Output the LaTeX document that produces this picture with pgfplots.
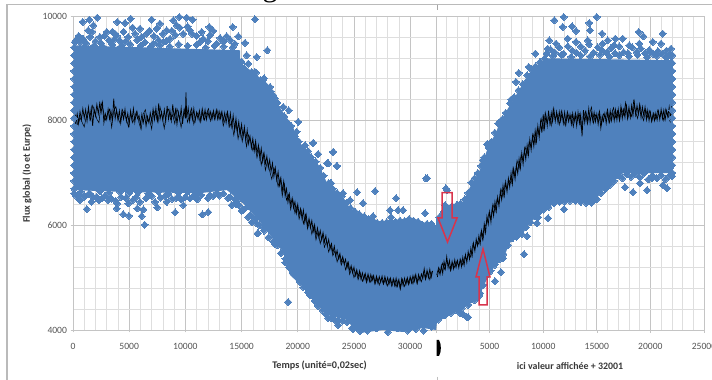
\documentclass[border=0pt]{standalone}
\usepackage{fontspec}
\setmainfont{Carlito}
\newfontfamily\serifg{Liberation Serif}
\usepackage{pgfplots}
\pgfplotsset{compat=1.18}
\definecolor{cloud}{HTML}{4F81BD}
\definecolor{majgrid}{HTML}{C4C4C4}
\definecolor{mingrid}{HTML}{DEDEDE}
\definecolor{tlabel}{HTML}{555555}
\definecolor{arrowred}{HTML}{D8344C}
\pgfplotsset{
  base/.style={
    scale only axis, clip=false, height=314pt,
    anchor=south west, scaled ticks=false,
    ymin=4000, ymax=10000,
    ytick={4000,6000,8000,10000},
    minor y tick num=4, minor x tick num=4,
    grid=both,
    major grid style={majgrid,line width=0.7pt},
    minor grid style={mingrid,line width=0.6pt},
    tick style={majgrid,line width=0.6pt},
    minor tick length=0pt, major tick length=2.5pt,
    tick align=outside,
    xtick pos=bottom, ytick pos=left,
    axis line style={majgrid,line width=0.8pt},
    tick label style={font=\fontsize{9.6}{11}\selectfont,text=tlabel},
    xticklabel style={yshift=-7pt},
  },
  cloudpoly/.style={fill=cloud,draw=none,mark=none,forget plot},
  cloudpts/.style={only marks,mark=diamond*,mark size=3.5pt,color=cloud,
    mark options={xscale=1.3,fill=cloud,draw=cloud,line width=0pt}},
  blackband/.style={black,line width=0.7pt,mark=none},
  blackover/.style={black,line width=0.5pt,mark=none},
}
\begin{document}
\begin{tikzpicture}[x=1pt,y=1pt]
\path[use as bounding box] (0,0) rectangle (712,380);
\clip (0,0) rectangle (712,380);
% frame
\fill[white] (0,0) rectangle (712,380);
\draw[color=black!27,line width=1.6pt] (7,0) -- (7,375.5) -- (712,375.5);
\draw[color=black!35,line width=0.7pt] (437,375) -- (437,370);
\draw[color=black!25,line width=0.7pt] (437,3) -- (437,0);
\node[anchor=base,inner sep=0pt,font=\fontsize{30}{30}\serifg] at (270,383.5) {g};

% left chart
\begin{axis}[base, at={(73pt,50pt)}, width=363pt,
  xmin=0, xmax=32300,
  xtick={0,5000,10000,15000,20000,25000,30000},
  xticklabels={0,5000,10000,15000,20000,25000,30000},
  yticklabels={4000,6000,8000,10000},
]
\addplot[cloudpoly] coordinates {
(100,9440)(14860,9345)(14860,9115)(16020,8925)(17270,8715)(18160,8333)(19580,7875)(20200,7570)(21090,7380)(21980,7112)(22600,6806)(24030,6540)(24650,6330)(26170,6138)(27950,6043)(29990,6157)(32300,5966)
(32300,4000)(31150,4038)(29370,3962)(27590,4000)(25540,3943)(24920,4038)(24390,4191)(22610,4286)(21360,4573)(20470,4821)(19310,5050)(18690,5489)(17530,5813)(16640,6062)(15300,6386)(13700,6673)(11300,6615)(5070,6634)(100,6673)} --cycle;
\addplot[cloudpts] coordinates {
(860,9886)(1453,9931)(2165,9969)(1809,9823)(1364,9727)(1513,9600)(267,9536)(2402,9600)(2996,9696)(3945,9886)(4627,9867)(5131,9950)(3737,9664)(4627,9505)(5962,9759)(7000,9931)(7741,9855)(6555,9664)(7445,9759)(8334,9727)(8928,9918)(9462,9982)(10114,9969)(10648,9931)(9224,9823)(10411,9727)(11449,9696)(12131,9791)(12487,9715)(14207,9791)(13673,9613)(14711,9613)(15305,9486)(16194,9937)(17292,9346)(12190,9632)(11300,9505)(12783,9473)(7148,9473)(8038,9505)(8631,9568)(5517,9664)(3589,9536)(623,9505)
(15453,9250)(16342,9218)(16194,8932)(16936,8773)(17529,8646)(17825,8486)(18715,8264)(19190,8200)(20050,7977)(19900,7787)(20644,7532)(21385,7577)(21830,7360)(23164,7405)(22720,7182)(23460,7137)(22868,6800)
(89,6609)(560,6596)(1220,6310)(1660,6450)(2110,6545)(2550,6513)(3140,6481)(3890,6323)(3940,6418)(4480,6214)(4980,6183)(4920,6418)(5720,6323)(5960,6450)(6260,6303)(6110,6176)(6380,6011)(7300,6450)(7500,6342)(8340,6450)(9080,6246)(9820,6386)(10410,6513)(11060,6494)(11510,6208)(12040,6252)(12190,6577)(13380,6609)(14120,6386)(14570,6450)(15760,6195)(16350,6036)(16410,5845)
(21360,7570)(21800,7360)(23140,7398)(22610,7188)(23500,7131)(22960,6806)(25280,6634)(26880,6654)(28750,6520)(31510,6902)(24650,6482)(25810,6424)(24030,6615)(26700,6176)(28300,6157)(28210,6291)(28930,6291)(29370,6291)(31330,6233)(31400,6896)
(19140,4535)(23140,4229)(23590,4191)(24920,4019)(25540,3981)(16470,5851)(15580,6157)(19940,5012)(20470,5107)(22700,4229)(23590,4095)(24830,4038)
(18000,5640)(18900,5290)(19600,5090)(20900,4720)(21800,4460)(26200,3990)(27000,4030)(28000,3960)(28900,4030)(29800,3990)(30500,4020)(31200,3990)(31900,4060)
(100,6700)(100,6850)(100,7000)(100,7150)(100,7300)(100,7450)(100,7600)(100,7750)(100,7900)(100,8050)(100,8200)(100,8350)(100,8500)(100,8650)(100,8800)(100,8950)(100,9100)(100,9250)(100,9400)
(1000,9420)(1900,9440)(2700,9410)(3500,9450)(4300,9420)(5100,9460)(6000,9430)(6900,9410)(7700,9440)(8600,9420)(9400,9460)(10200,9430)(11000,9450)(11800,9400)(12600,9430)(13400,9420)(14200,9400)
(700,6640)(1500,6610)(2400,6650)(3200,6620)(4200,6640)(5000,6620)(5800,6630)(6700,6610)(7600,6640)(8500,6600)(9400,6620)(10200,6640)(11000,6610)(12800,6620)(13800,6520)(14500,6400)(15000,6280)(15900,6060)(17000,5900)
(150,9500)(500,9620)(900,9560)(1200,9480)(1700,9700)(2000,9520)(2500,9480)(2800,9620)(3200,9540)(3500,9700)(3900,9620)(4200,9520)(4500,9700)(4900,9600)(5300,9780)(5700,9540)(6100,9600)(6400,9500)(6800,9720)(7200,9620)(7600,9540)(8000,9660)(8300,9520)(8800,9720)(9100,9640)(9500,9780)(9800,9660)(10200,9800)(10600,9660)(11000,9620)(11600,9560)(12000,9520)(13100,9580)(13400,9510)(14000,9540)(14400,9470)
(15000,9130)(15250,9000)(15600,9090)(15900,8930)(16300,8920)(16700,8780)(17000,8810)(17350,8620)(17600,8560)(17950,8430)(18200,8340)(18400,8120)(18800,8080)(19100,7960)(19400,7900)(19750,7700)(20100,7600)(20400,7440)(20900,7420)(21200,7300)(21600,7220)(22000,7100)(22300,6950)(22700,6800)(23100,6700)(23500,6620)(23900,6560)(24300,6420)(24700,6330)(25100,6260)(25500,6210)(25900,6170)(26300,6120)(26700,6090)(27100,6040)(27500,6050)(27900,6060)(28300,6080)(28700,6070)(29100,6090)(29500,6080)(29900,6120)(30300,6090)(30700,6070)(31100,6010)(31500,6030)(31900,6030)(32200,5950)
(14000,6540)(14400,6500)(14800,6380)(15200,6300)(15500,6360)(15800,6190)(16200,6120)(16600,6000)(17000,5950)(17400,5770)(17800,5690)(18200,5620)(18500,5470)(18900,5360)(19200,5200)(19500,5150)(19800,5050)(20200,4920)(20500,4820)(20800,4800)(21100,4660)(21500,4560)(21800,4500)(22200,4380)(22500,4300)(23000,4220)(23500,4150)(24000,4180)(24400,4150)(25000,4030)
(300,6560)(600,6480)(1000,6540)(1400,6600)(1800,6540)(2300,6480)(2800,6560)(3400,6510)(3800,6470)(4300,6540)(4700,6520)(5300,6480)(5600,6540)(6500,6520)(7000,6560)(7800,6530)(8200,6560)(8800,6510)(9200,6520)(9600,6500)(10000,6540)(10700,6560)(11400,6580)(12000,6520)(12500,6560)(13000,6570)
};
\addplot[blackband] coordinates {
(125,8000)(250,7920)(375,8130)(500,7960)(625,8170)(750,8020)(875,8230)(1000,8050)(1125,8210)(1250,7990)(1375,8260)(1500,8040)(1625,8240)(1750,7900)(1875,8220)(2000,8090)(2125,8310)(2250,8130)(2375,8330)(2500,8150)(2625,8340)(2750,7960)(2875,8130)(3000,8020)(3125,8220)(3250,8030)(3375,8190)(3500,7990)(3625,8420)(3750,8040)(3875,8200)(4000,8010)(4125,8190)(4250,7960)(4375,8170)(4500,8030)(4625,8220)(4750,7990)(4875,8140)(5000,7930)(5125,8190)(5250,8010)(5375,8230)(5500,7970)(5625,8150)(5750,8040)(5875,8100)(6000,7920)(6125,8120)(6250,7960)(6375,8110)(6500,7900)(6625,8080)(6750,7960)(6875,8150)(7000,7990)(7125,8220)(7250,8020)(7375,8240)(7500,7980)(7625,8330)(7750,8030)(7875,8170)(8000,8010)(8125,8210)(8250,7980)(8375,8280)(8500,8030)(8625,8200)(8750,8000)(8875,8310)(9000,8060)(9125,8210)(9250,7930)(9375,8160)(9500,8010)(9625,8240)(9750,7940)(9875,8200)(10000,8040)(10050,8540)(10125,8060)(10250,8240)(10375,7990)(10500,8180)(10625,8020)(10750,8230)(10875,8000)(11000,8160)(11125,8030)(11250,8190)(11375,7990)(11500,8170)(11625,8040)(11750,8210)(11875,8020)(12000,8180)(12125,8050)(12250,8170)(12375,8030)(12500,8190)(12625,8050)(12750,8200)(12875,8030)(13000,8180)(13125,8040)(13250,8170)(13375,8000)(13500,8150)(13625,7960)(13750,8150)(13875,7920)(14000,8140)(14125,7890)(14250,8100)(14375,7840)(14500,8040)(14625,7790)(14750,7980)(14875,7720)(15000,7930)(15125,7690)(15250,7880)(15375,7620)(15500,7820)(15625,7560)(15750,7700)(15875,7480)(16000,7660)(16125,7420)(16250,7610)(16375,7370)(16500,7530)(16625,7280)(16750,7470)(16875,7220)(17000,7380)(17125,7180)(17250,7320)(17375,7100)(17500,7250)(17625,7030)(17750,7190)(17875,6930)(18000,7100)(18125,6860)(18250,7020)(18375,6760)(18500,6900)(18625,6660)(18750,6840)(18875,6560)(19000,6700)(19125,6440)(19250,6600)(19375,6390)(19500,6520)(19625,6330)(19750,6450)(19875,6230)(20000,6400)(20125,6200)(20250,6320)(20375,6130)(20500,6290)(20625,6050)(20750,6200)(20875,5990)(21000,6130)(21125,5950)(21250,6090)(21375,5880)(21500,6010)(21625,5800)(21750,5950)(21875,5770)(22000,5900)(22125,5720)(22250,5860)(22375,5680)(22500,5800)(22625,5610)(22750,5730)(22875,5550)(23000,5650)(23125,5470)(23250,5600)(23375,5410)(23500,5520)(23625,5360)(23750,5460)(23875,5300)(24000,5400)(24125,5260)(24250,5350)(24375,5180)(24500,5290)(24625,5130)(24750,5230)(24875,5090)(25000,5200)(25125,5040)(25250,5150)(25375,5010)(25500,5130)(25625,4970)(25750,5090)(25875,4960)(26000,5080)(26125,4950)(26250,5070)(26375,4930)(26500,5060)(26625,4950)(26750,5040)(26875,4900)(27000,5030)(27125,4900)(27250,5020)(27375,4910)(27500,5030)(27625,4890)(27750,5020)(27875,4880)(28000,5000)(28125,4880)(28250,4990)(28375,4870)(28500,4980)(28625,4850)(28750,4990)(28875,4840)(29000,4960)(29125,4810)(29250,4980)(29375,4850)(29500,4990)(29625,4870)(29750,5000)(29875,4890)(30000,5020)(30125,4900)(30250,5040)(30375,4930)(30500,5060)(30625,4900)(30750,5060)(30875,4950)(31000,5070)(31125,4980)(31250,5170)(31375,4990)(31500,5140)(31625,5000)(31750,5160)(31875,5010)(32000,5130)
};
\addplot[blackover] coordinates {
(60,8060)(250,8110)(440,7900)(620,8060)(810,7970)(1000,7880)(1190,8090)(1370,8190)(1560,8010)(1750,8290)(1940,8170)(2120,8030)(2310,7960)(2500,8340)(2690,8200)(2870,8010)(3060,8120)(3250,8220)(3440,7870)(3620,8180)(3810,8270)(4000,8060)(4190,7950)(4370,8220)(4560,8130)(4750,8030)(4940,7880)(5120,8140)(5310,7960)(5500,8080)(5690,8190)(5870,7960)(6060,7830)(6250,8130)(6440,8210)(6620,7990)(6810,8030)(7000,7840)(7190,8190)(7370,8110)(7560,7960)(7750,8260)(7940,8060)(8120,7850)(8310,8160)(8500,8220)(8690,8020)(8870,8110)(9060,7940)(9250,8230)(9440,8090)(9620,7870)(9810,8100)(10000,8270)(10190,7970)(10370,8110)(10560,8240)(10750,7930)(10940,8080)(11120,8150)(11310,7970)(11500,8240)(11690,8010)(11870,8130)(12060,8230)(12250,7990)(12440,8150)(12620,8010)(12810,8210)(13000,8020)(13190,8170)(13370,7900)(13560,8050)(13750,8180)(13940,7880)(14120,7980)(14310,7720)(14500,7950)(14690,7650)(14870,7860)(15060,7600)(15250,7840)(15440,7500)(15620,7730)(15810,7620)(16000,7430)(16190,7550)(16370,7290)(16560,7460)(16750,7150)(16940,7370)(17120,7050)(17310,7240)(17500,7040)(17690,6880)(17870,7100)(18060,6980)(18250,6740)(18440,6910)(18620,6560)(18810,6790)(19000,6480)(19190,6590)(19370,6300)(19560,6500)(19750,6230)(19940,6380)(20120,6120)(20310,6280)(20500,6030)(20690,6210)(20870,5930)(21060,6090)(21250,5830)(21440,5990)(21620,5720)(21810,5880)(22000,5650)(22190,5820)(22370,5580)(22560,5700)(22750,5490)(22940,5620)(23120,5420)(23310,5510)(23500,5300)(23690,5440)(23870,5240)(24060,5350)(24250,5150)(24440,5290)(24620,5060)(24810,5190)(25000,5000)(25190,5120)(25370,4960)(25560,5090)(25750,4930)(25940,5060)(26120,4900)(26310,5040)(26500,4910)(26690,5040)(26870,4870)(27060,4990)(27250,4860)(27440,4990)(27620,4870)(27810,4990)(28000,4840)(28190,4980)(28370,4830)(28560,4960)(28750,4820)(28940,4960)(29120,4770)(29310,4970)(29500,4830)(29690,4970)(29870,4860)(30060,5000)(30250,4880)(30440,5050)(30620,4880)(30810,5020)(31000,4920)(31190,5110)(31370,4960)(31560,5120)(31750,4960)(31940,5120)
};
\end{axis}

% right chart
\begin{axis}[base, at={(436pt,50pt)}, width=268pt,
  xmin=0, xmax=25000,
  xtick={0,5000,10000,15000,20000,25000},
  xticklabels={,5000,10000,15000,20000,25000},
  yticklabels={},
  ytick style={draw=none},
]
\addplot[cloudpoly] coordinates {
(0,6157)(1030,6348)(2520,6444)(3170,6730)(4110,7054)(4760,7436)(5690,7818)(5880,7952)(7180,8390)(8680,8906)(10260,9192)(22100,9154)
(22100,7054)(22020,6997)(19970,6997)(18750,6997)(17450,6997)(16510,6825)(15580,6673)(14650,6425)(12780,6482)(11290,6444)(9980,6291)(8770,6043)(8120,5852)(7180,5775)(6250,5374)(5040,5107)(4290,4764)(4110,4573)(3450,4535)(2240,4382)(90,4153)(0,4000)} --cycle;
\addplot[cloudpts] coordinates {
(11040,9918)(11910,9982)(14990,9982)(14300,9867)(14370,9727)(11820,9791)(12690,9804)(13060,9715)(15490,9664)(16020,9536)(16730,9568)(17420,9568)(18910,9695)(19340,9613)(21150,9664)(20220,9505)(20990,9473)(21930,9377)(18970,9473)(16610,9441)(14150,9536)(12290,9568)(10570,9536)(11200,9473)(13060,9505)(15550,9473)(18030,9441)(19900,9314)(21770,9250)(10420,9377)(9270,9282)(8650,9027)(7720,8913)(7460,8741)(8560,8773)(7000,8404)(6070,8000)(4760,7551)(4360,7246)(930,6705)
(11940,6310)(10450,6138)(9420,6043)(9520,6157)(7560,5795)(8490,5795)(17630,6730)(18380,6634)(19030,6806)(19690,6673)(21550,6711)(21180,6768)(20150,6902)(22020,6940)(14650,6463)(14180,6577)(14370,6730)
(1030,6673)(840,6386)(1960,6386)(4850,7551)(4390,7245)
(2890,4248)(2240,4325)(5500,4935)(4110,4706)(8210,5451)(6060,5107)(2990,4248)(2520,4305)(7650,5814)(6250,5374)
(22050,7000)(22050,7150)(22050,7300)(22050,7450)(22050,7600)(22050,7750)(22050,7900)(22050,8050)(22050,8200)(22050,8350)(22050,8500)(22050,8650)(22050,8800)(22050,8950)(22050,9100)(22050,9250)
(10900,9240)(11700,9260)(12600,9220)(13500,9250)(14400,9230)(15300,9260)(16200,9220)(17100,9250)(18000,9230)(18800,9260)(19700,9210)(20600,9240)(21500,9200)
(10300,9280)(10700,9360)(11100,9300)(11500,9400)(11900,9280)(12300,9420)(12700,9340)(13100,9300)(13500,9420)(13900,9340)(14300,9460)(14700,9300)(15100,9400)(15500,9340)(15900,9300)(16300,9380)(16700,9290)(17100,9420)(17500,9310)(17900,9290)(18300,9400)(18700,9310)(19100,9380)(19500,9290)(19900,9350)(20300,9270)(20700,9330)(21100,9280)(21500,9340)(21900,9240)
(300,6150)(700,6260)(1100,6320)(1500,6370)(1900,6380)(2300,6420)(2700,6500)(3000,6620)(3300,6820)(3600,6900)(3900,7000)(4200,7140)(4500,7300)(4900,7480)(5200,7600)(5500,7770)(5800,7950)(6200,8030)(6500,8150)(6900,8330)(7300,8450)(7700,8580)(8100,8700)(8500,8870)(8900,8980)(9300,9040)(9700,9120)(10100,9180)
(200,4200)(800,4280)(1400,4330)(1900,4380)(2400,4420)(3000,4480)(3600,4570)(4000,4650)(4400,4860)(4700,5030)(5100,5130)(5500,5250)(5900,5350)(6300,5450)(6700,5620)(7100,5750)(7500,5780)(8000,5830)(8400,5960)(8800,6060)(9200,6180)(9600,6250)(10000,6300)(10500,6350)(11000,6420)(11500,6450)(12000,6460)(12500,6470)(13000,6470)(13500,6450)(14000,6430)(14500,6430)(15000,6500)(15400,6620)(15800,6700)(16200,6770)(16600,6850)(17000,6960)(17400,6900)(17800,6980)(18200,6930)(18600,6990)(19000,6920)(19400,6990)(19800,6880)(20200,6950)(20600,6900)(21000,6960)(21400,6880)(21800,6950)
};
\addplot[blackband] coordinates {
(125,5010)(250,5160)(375,5060)(500,5230)(625,5080)(750,5310)(875,5170)(1000,5400)(1125,5190)(1250,5330)(1375,5150)(1500,5310)(1625,5170)(1750,5340)(1875,5200)(2000,5330)(2125,5190)(2250,5350)(2375,5210)(2500,5390)(2625,5240)(2750,5440)(2875,5290)(3000,5500)(3125,5350)(3250,5560)(3375,5420)(3500,5660)(3625,5510)(3750,5740)(3875,5610)(4000,5800)(4125,5650)(4250,5900)(4375,5760)(4500,6030)(4625,5860)(4750,6170)(4875,6020)(5000,6260)(5125,6060)(5250,6340)(5375,6180)(5500,6450)(5625,6270)(5750,6540)(5875,6370)(6000,6650)(6125,6490)(6250,6760)(6375,6570)(6500,6830)(6625,6640)(6750,6900)(6875,6730)(7000,7000)(7125,6790)(7250,7070)(7375,6880)(7500,7150)(7625,6990)(7750,7270)(7875,7090)(8000,7380)(8125,7170)(8250,7450)(8375,7260)(8500,7530)(8625,7340)(8750,7640)(8875,7440)(9000,7710)(9125,7510)(9250,7810)(9375,7600)(9500,7900)(9625,7680)(9750,7980)(9875,7770)(10000,8120)(10125,7860)(10250,8100)(10375,7900)(10500,8190)(10625,7940)(10750,8150)(10875,7980)(11000,8200)(11125,7990)(11250,8170)(11375,7970)(11500,8170)(11625,7990)(11750,8150)(11875,7950)(12000,8160)(12125,7940)(12250,8120)(12375,7980)(12500,8120)(12625,7930)(12750,8140)(12875,7970)(13000,8100)(13125,7900)(13250,8160)(13375,7950)(13500,8120)(13625,7700)(13750,8200)(13875,7960)(14000,8150)(14125,8000)(14250,8230)(14375,7960)(14500,8150)(14625,8000)(14750,8160)(14875,7980)(15000,8130)(15125,7930)(15250,8120)(15375,7860)(15500,8090)(15625,7990)(15750,8140)(15875,7950)(16000,8150)(16125,7990)(16250,8190)(16375,8000)(16500,8170)(16625,8000)(16750,8210)(16875,8010)(17000,8220)(17125,8020)(17250,8270)(17375,8040)(17500,8210)(17625,8060)(17750,8320)(17875,8070)(18000,8260)(18125,8060)(18250,8290)(18375,8100)(18500,8350)(18625,8110)(18750,8290)(18875,8120)(19000,8270)(19125,8060)(19250,8260)(19375,8100)(19500,8260)(19625,8020)(19750,8200)(19875,8000)(20000,8160)(20125,7990)(20250,8130)(20375,8000)(20500,8140)(20625,8010)(20750,8180)(20875,8020)(21000,8220)(21125,8040)(21250,8200)(21375,8020)(21500,8180)(21625,8070)(21750,8260)(21875,8020)(22000,8240)(22125,8030)
};
\addplot[blackover] coordinates {
(60,5050)(250,5200)(440,5100)(620,5280)(810,5160)(1000,5340)(1190,5230)(1370,5130)(1560,5290)(1750,5190)(1940,5310)(2120,5220)(2310,5350)(2500,5240)(2690,5400)(2870,5340)(3060,5470)(3250,5390)(3440,5640)(3620,5540)(3810,5700)(4000,5640)(4190,5860)(4370,5710)(4560,5980)(4750,6050)(4940,6240)(5120,6130)(5310,6410)(5500,6260)(5690,6500)(5870,6420)(6060,6700)(6250,6540)(6440,6800)(6620,6700)(6810,6860)(7000,6800)(7190,7100)(7370,6950)(7560,7240)(7750,7080)(7940,7350)(8120,7250)(8310,7500)(8500,7350)(8690,7600)(8870,7500)(9060,7740)(9250,7560)(9440,7860)(9620,7730)(9810,8040)(10000,7830)(10190,8160)(10370,7960)(10560,8080)(10750,7900)(10940,8240)(11120,8020)(11310,8120)(11500,7920)(11690,8190)(11870,8050)(12060,7900)(12250,8180)(12440,8040)(12620,8110)(12810,7880)(13000,8160)(13190,8000)(13370,8130)(13560,7830)(13750,8050)(13940,8180)(14120,7930)(14310,8120)(14500,8260)(14690,7950)(14870,8110)(15060,8030)(15250,8190)(15440,7920)(15620,8130)(15810,8060)(16000,8220)(16190,7960)(16370,8130)(16560,8250)(16750,8060)(16940,8190)(17120,7990)(17310,8240)(17500,8110)(17690,8350)(17870,8020)(18060,8180)(18250,8080)(18440,8380)(18620,8160)(18810,8040)(19000,8330)(19190,8110)(19370,8000)(19560,8220)(19750,8060)(19940,8190)(20120,7980)(20310,8150)(20500,8030)(20690,8200)(20870,8060)(21060,8170)(21250,8000)(21440,8230)(21620,8120)(21810,8000)(22000,8280)(22120,8100)
};
\end{axis}

% labels
\node[rotate=90,font=\fontsize{10}{12}\selectfont\bfseries,text=black!78] at (27,206.5) {Flux global (Io et Eurpe)};
\node[font=\fontsize{10.2}{12}\selectfont\bfseries,text=black!78] at (319.5,14.5) {Temps (unité=0,02sec)};
\node[font=\fontsize{9.9}{12}\selectfont\bfseries,text=black!78] at (570,14) {ici valeur affichée + 32001};
% black mark on the axis break
\fill[black] (436.5,40) -- (439,40) .. controls (441.5,36) and (441.5,28) .. (439,24) -- (436.5,24) -- cycle;
% red arrows
\draw[arrowred,line width=1.5pt,line join=miter] (442,187.3) -- (452,187.3) -- (452,162) -- (457,162) -- (447.5,138) -- (438,162) -- (442,162) -- cycle;
\draw[arrowred,line width=1.5pt,line join=miter] (483,131) -- (490,103) -- (487,103) -- (487,75) -- (479,75) -- (479,103) -- (476,103) -- cycle;
\end{tikzpicture}
\end{document}
